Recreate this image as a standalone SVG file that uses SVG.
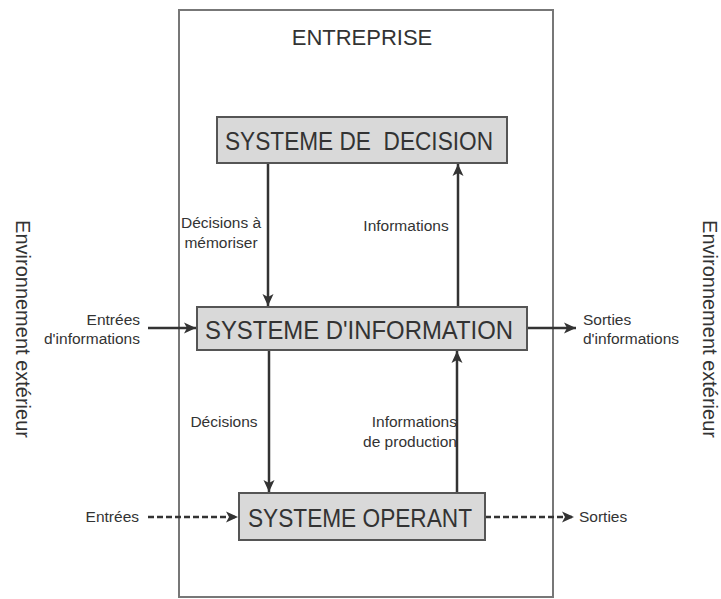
<svg xmlns="http://www.w3.org/2000/svg" width="721" height="599" viewBox="0 0 721 599">
<style>
.t{font-family:"Liberation Sans",Arial,sans-serif;fill:#333}
.big{font-size:25px}
.sm{font-size:15.5px}
.env{font-size:20px}
.box{fill:#d9d9d9;stroke:#555;stroke-width:2}
.ln{stroke:#333;stroke-width:2.5;fill:none}
.dash{stroke-dasharray:6 3}
</style>
<defs>
<marker id="ah" markerUnits="userSpaceOnUse" markerWidth="14" markerHeight="14" viewBox="0 0 14 14" refX="13" refY="7" orient="auto">
<path d="M1,1.5 L13,7 L1,12.5 L4,7 Z" fill="#333"/>
</marker>
</defs>
<rect x="0" y="0" width="721" height="599" fill="#fff"/>
<g id="enterprise">
<rect x="179" y="10" width="374" height="587" fill="none" stroke="#777" stroke-width="2"/>
<text class="t" x="362" y="45" font-size="22" text-anchor="middle">ENTREPRISE</text>
</g>
<g id="env-left">
<text class="t env" transform="translate(16,329) rotate(90)" text-anchor="middle">Environnement extérieur</text>
</g>
<g id="env-right">
<text class="t env" transform="translate(703,329) rotate(90)" text-anchor="middle">Environnement extérieur</text>
</g>
<g id="connectors">
<line class="ln" x1="268" y1="163" x2="268" y2="306" marker-end="url(#ah)"/>
<line class="ln" x1="458" y1="307" x2="458" y2="164" marker-end="url(#ah)"/>
<line class="ln" x1="269" y1="350" x2="269" y2="492" marker-end="url(#ah)"/>
<line class="ln" x1="457" y1="493" x2="457" y2="351" marker-end="url(#ah)"/>
<line class="ln" x1="148" y1="328" x2="196" y2="328" marker-end="url(#ah)"/>
<line class="ln" x1="527" y1="328" x2="576" y2="328" marker-end="url(#ah)"/>
<line class="ln dash" x1="148" y1="517" x2="238" y2="517" marker-end="url(#ah)"/>
<line class="ln dash" x1="485" y1="517" x2="574" y2="517" marker-end="url(#ah)"/>
<text class="t sm" x="221" y="228" text-anchor="middle">Décisions à</text>
<text class="t sm" x="221" y="248" text-anchor="middle">mémoriser</text>
<text class="t sm" x="406" y="231" text-anchor="middle">Informations</text>
<text class="t sm" x="224" y="427" text-anchor="middle">Décisions</text>
<text class="t sm" x="457" y="427" text-anchor="end">Informations</text>
<text class="t sm" x="457" y="447" text-anchor="end">de production</text>
<text class="t sm" x="140" y="325" text-anchor="end">Entrées</text>
<text class="t sm" x="140" y="344" text-anchor="end">d'informations</text>
<text class="t sm" x="583" y="325">Sorties</text>
<text class="t sm" x="583" y="344">d'informations</text>
<text class="t sm" x="139" y="522" text-anchor="end">Entrées</text>
<text class="t sm" x="579" y="522">Sorties</text>
</g>
<g id="decision">
<rect class="box" x="217" y="117" width="290" height="46"/>
<text class="t big" x="359" y="150" text-anchor="middle" textLength="268" lengthAdjust="spacingAndGlyphs" xml:space="preserve" style="white-space:pre">SYSTEME DE  DECISION</text>
</g>
<g id="information">
<rect class="box" x="197" y="307" width="330" height="43"/>
<text class="t big" x="359" y="339" text-anchor="middle" textLength="308" lengthAdjust="spacingAndGlyphs">SYSTEME D'INFORMATION</text>
</g>
<g id="operant">
<rect class="box" x="239" y="493" width="246" height="47"/>
<text class="t big" x="360" y="527" text-anchor="middle" textLength="224" lengthAdjust="spacingAndGlyphs">SYSTEME OPERANT</text>
</g>
</svg>
